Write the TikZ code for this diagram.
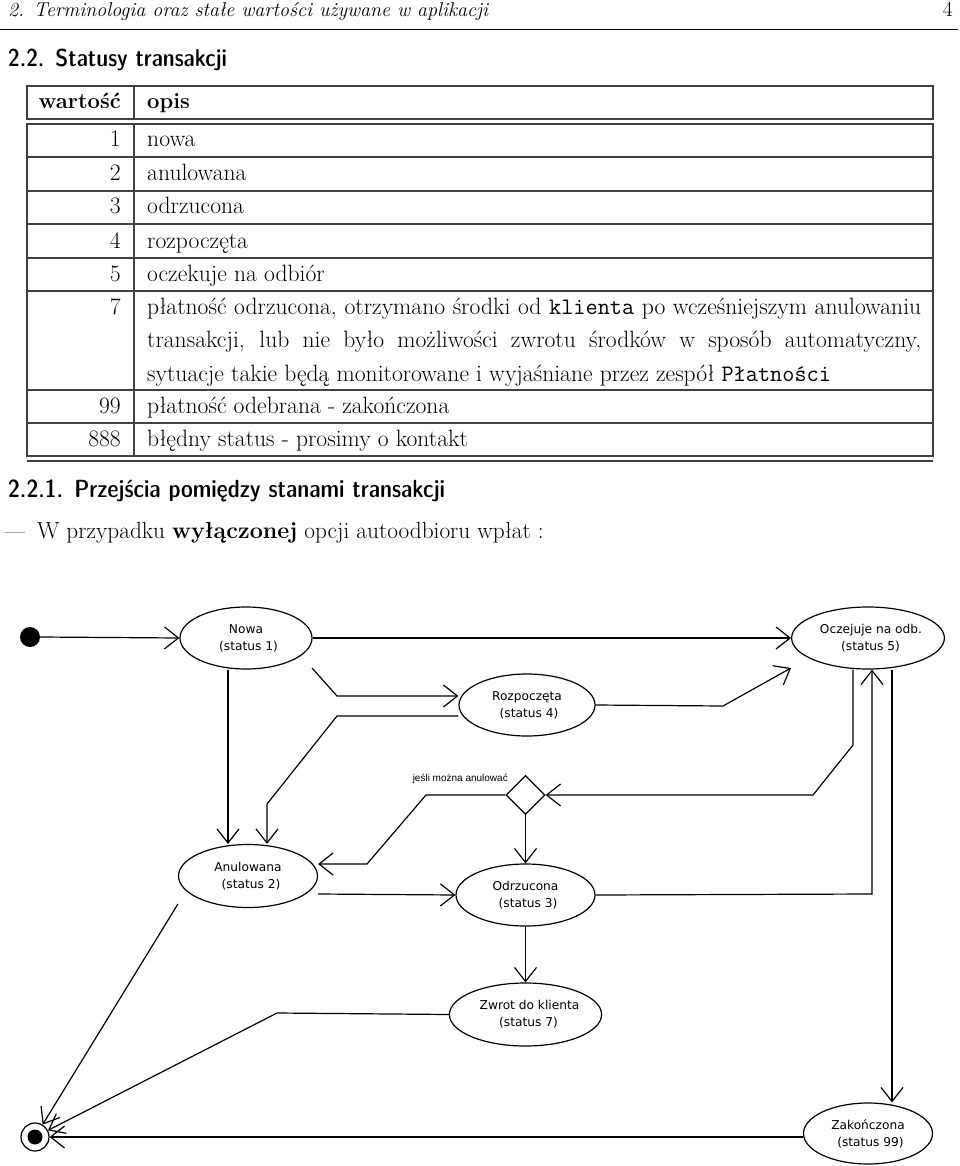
\documentclass[tikz,border=0pt]{standalone}
\usepackage{fontspec}
\usetikzlibrary{arrows.meta,shapes.geometric,calc}
\newfontfamily\sdc{lmsansdemicond10-regular}[Extension=.otf]
\newfontfamily\dejavu{DejaVu Sans}
\newfontfamily\arialf{Liberation Sans}
\begin{document}
\begin{tikzpicture}[x=1pt,y=-1pt,
  txt/.style={inner sep=0,font=\fontsize{23.6}{33.4}\selectfont},
  hdr/.style={inner sep=0,font=\fontsize{22}{33.4}\selectfont\bfseries},
  tline/.style={line width=1.2pt,draw=black!75},
  state/.style={ellipse,draw,line width=1.2pt,inner sep=0,align=center,
    font=\dejavu\fontsize{12.2}{17}\selectfont},
  arr/.style={line width=1.2pt,-{Straight Barb[length=14pt,width=22pt,line width=1.2pt]}}
]
\useasboundingbox (0,0) rectangle (960,1166);
\fill[white] (0,0) rectangle (960,1166);

% running head
\node[txt,anchor=base west,font=\fontsize{20}{24}\selectfont\itshape] (head) at (8,17)
  {2. Terminologia oraz stałe wartości używane w aplikacji};
\node[txt,anchor=base east,font=\fontsize{21.5}{24}\selectfont] (pnum) at (953,17) {4};
\draw[line width=0.9pt] (0,29) -- (958,29);

% section title
\node[txt,anchor=base west,font=\sdc\fontsize{24.5}{30}\selectfont] (sec) at (8,67)
  {2.2.\hspace{0.45em}Statusy transakcji};

% table frame
\draw[tline] (27,86) rectangle (933,119);
\draw[tline] (134,86) -- (134,119);
\draw[tline] (27,124) rectangle (933,456);
\draw[tline] (134,124) -- (134,456);
\foreach \yy in {157,191,224,258,291,390,423}
  \draw[tline] (27,\yy) -- (933,\yy);
\draw[tline] (27,461) -- (933,461);

% table text
\node[hdr,anchor=base east] (hv) at (121,109) {wartość};
\node[hdr,anchor=base west] (ho) at (147,109) {opis};
\node[txt,anchor=base east] (v1) at (121,147) {1};
\node[txt,anchor=base west] (d1) at (147,147) {nowa};
\node[txt,anchor=base east] (v2) at (121,181) {2};
\node[txt,anchor=base west] (d2) at (147,181) {anulowana};
\node[txt,anchor=base east] (v3) at (121,214) {3};
\node[txt,anchor=base west] (d3) at (147,214) {odrzucona};
\node[txt,anchor=base east] (v4) at (121,248) {4};
\node[txt,anchor=base west] (d4) at (147,248) {rozpoczęta};
\node[txt,anchor=base east] (v5) at (121,281) {5};
\node[txt,anchor=base west] (d5) at (147,281) {oczekuje na odbiór};
\node[txt,anchor=base east] (v7) at (121,314) {7};
\node[txt,anchor=base west] (d7a) at (147,314)
  {\makebox[774pt][s]{płatność odrzucona, otrzymano środki od \texttt{klienta} po wcześniejszym anulowaniu}};
\node[txt,anchor=base west] (d7b) at (147,347.5)
  {\makebox[774pt][s]{transakcji, lub nie było możliwości zwrotu środków w sposób automatyczny,}};
\node[txt,anchor=base west] (d7c) at (147,381)
  {sytuacje takie będą monitorowane i wyjaśniane przez zespół \texttt{Płatności}};
\node[txt,anchor=base east] (v99) at (121,413) {99};
\node[txt,anchor=base west] (d99) at (147,413) {płatność odebrana - zakończona};
\node[txt,anchor=base east] (v888) at (121,446) {888};
\node[txt,anchor=base west] (d888) at (147,446) {błędny status - prosimy o kontakt};

% subsection
\node[txt,anchor=base west,font=\sdc\fontsize{24.8}{30}\selectfont] (subsec) at (8,497)
  {2.2.1.\hspace{0.45em}Przejścia pomiędzy stanami transakcji};
\node[txt,anchor=base west,font=\fontsize{21.5}{30}\selectfont] (dash) at (5,538) {—};
\node[txt,anchor=base west,font=\fontsize{23.3}{30}\selectfont] (item) at (37,538)
  {W przypadku \textbf{wyłączonej} opcji autoodbioru wpłat :};

% diagram nodes
\node[circle,fill=black,minimum size=20pt,inner sep=0] (init) at (30,637) {};
\node[state,minimum width=132pt,minimum height=62pt] (nowa) at (246,638)
  {Nowa\\\hspace*{5pt}(status 1)};
\node[state,minimum width=129pt,minimum height=62pt] (ocz) at (868,638)
  {\hspace*{6pt}Oczejuje na odb.\\\hspace*{5pt}(status 5)};
\node[state,minimum width=136pt,minimum height=62pt] (rozp) at (527,705)
  {Rozpoczęta\\\hspace*{4pt}(status 4)};
\node[diamond,draw,line width=1.2pt,minimum width=39pt,minimum height=39pt,inner sep=0] (dec) at (525.5,795) {};
\node[anchor=base east,inner sep=0,font=\arialf\fontsize{10}{12}\selectfont] (declbl) at (508,781)
  {jeśli można anulować};
\node[state,minimum width=139pt,minimum height=63pt] (anul) at (248,876)
  {Anulowana\\\hspace*{6pt}(status 2)};
\node[state,minimum width=139pt,minimum height=62pt] (odrz) at (525.5,895)
  {Odrzucona\\\hspace*{5pt}(status 3)};
\node[state,minimum width=139pt,minimum height=63pt] (zwrot) at (525.5,1014.5)
  {\hspace*{8pt}Zwrot do klienta\\\hspace*{6pt}(status 7)};
\node[state,minimum width=129pt,minimum height=61pt] (zak) at (868,1133.5)
  {Zakończona\\\hspace*{5pt}(status 99)};
\node[circle,draw,line width=1.2pt,minimum size=28pt,inner sep=0,
  path picture={\fill (path picture bounding box.center) circle (7.5pt);}] (fin) at (35,1137) {};

% bend points
\coordinate (c1) at (312,668);
\coordinate (c2) at (337,696);
\coordinate (c3) at (337,716);
\coordinate (c4) at (267,804);
\coordinate (c6) at (723,706);
\coordinate (c7) at (426,795);
\coordinate (c8) at (367,864);
\coordinate (c9) at (853,745);
\coordinate (c10) at (813,795);
\coordinate (c11) at (872,894);
\coordinate (c12) at (277,1013);

% connectors
\draw[arr] (init.east) -- (nowa.west);
\draw[arr] (nowa.east) -- (ocz.west);
\draw[arr] (c1) -- (c2) -- (c2 -| rozp.west);
\draw[arr] ([yshift=-11pt]rozp.west) -- (c3) -- (c4) -- (c4 |- anul.north);
\draw[arr] ([xshift=-18pt]nowa.south) -- ([xshift=-20pt]anul.north);
\draw[arr] (rozp.east) -- (c6) -- ([yshift=-30pt]ocz.west);
\draw[arr] (dec.west) -- (c7) -- (c8) -- ([yshift=12pt]anul.east);
\draw[arr] ([xshift=-15pt]ocz.south) -- (c9) -- (c10) -- (dec.east);
\draw[arr] (dec.south) -- (odrz.north);
\draw[arr] ([yshift=-18pt]anul.east) -- (odrz.west);
\draw[arr] (odrz.east) -- (c11) -- (c11 |- ocz.south);
\draw[arr] ([xshift=24pt]ocz.south) -- ([xshift=24pt]zak.north);
\draw[arr] (odrz.south) -- (zwrot.north);
\draw[arr] (zwrot.west) -- (c12) -- (fin);
\draw[arr] ([yshift=-28pt]anul.west) -- (fin);
\draw[arr] (zak.west |- fin.east) -- (fin.east);
\end{tikzpicture}
\end{document}
